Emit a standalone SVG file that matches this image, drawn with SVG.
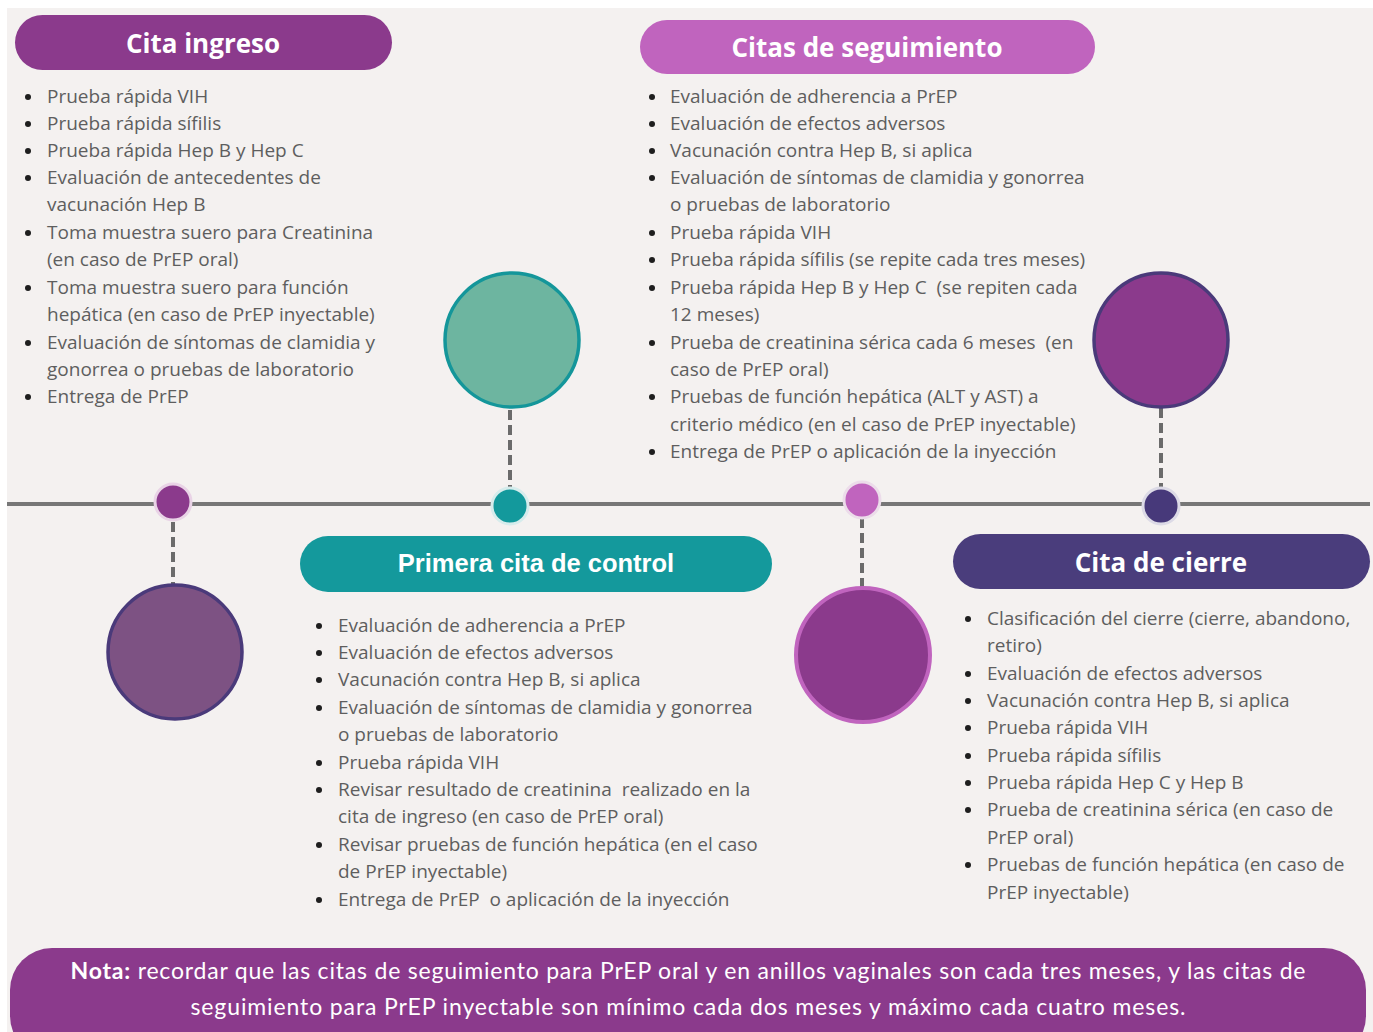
<svg xmlns="http://www.w3.org/2000/svg" width="1373" height="1032" viewBox="0 0 1373 1032">
<defs>
<style>
.bg{fill:#f4f1f0}
.hdr{font-family:"Open Sans","DejaVu Sans",sans-serif;font-weight:700;font-size:26px;fill:#ffffff;text-anchor:middle}
.hdr2{font-family:"Liberation Sans",Arial,sans-serif;font-weight:700;font-size:25.5px;fill:#ffffff;text-anchor:middle}
.li{font-family:"Open Sans","DejaVu Sans",sans-serif;font-size:19px;fill:#5e5e5e}
.b{fill:#1e1e1e}
.dash{stroke:#6b6b6b;stroke-width:4;stroke-dasharray:10 5;fill:none}
.note{font-family:"Lato","Open Sans",sans-serif;font-size:23px;fill:#ffffff;text-anchor:middle}
</style>
</defs>
<rect x="0" y="0" width="1373" height="1032" fill="#ffffff"/>
<rect class="bg" x="7" y="8" width="1366" height="1024"/>

<g id="connectors">
<line x1="7" y1="504" x2="1370" y2="504" stroke="#777777" stroke-width="4"/>
<line class="dash" x1="173" y1="522" x2="173" y2="586"/>
<line class="dash" x1="510" y1="410" x2="510" y2="488"/>
<line class="dash" x1="862" y1="518" x2="862" y2="588"/>
<line class="dash" x1="1161" y1="408" x2="1161" y2="490"/>
</g>

<g id="dot-ingreso"><circle cx="173" cy="502" r="18" fill="#8b3a8c" stroke="#e9d3e6" stroke-width="3"/></g>
<g id="dot-control"><circle cx="510" cy="506" r="18" fill="#13999c" stroke="#d6ecec" stroke-width="3"/></g>
<g id="dot-seguimiento"><circle cx="862" cy="500" r="18" fill="#c064be" stroke="#ecdcea" stroke-width="3"/></g>
<g id="dot-cierre"><circle cx="1161" cy="506" r="18" fill="#47397a" stroke="#dcdae6" stroke-width="3"/></g>

<g id="circle-ingreso"><circle cx="175" cy="652" r="67" fill="#7d5283" stroke="#4a3a7a" stroke-width="3.5"/></g>
<g id="circle-control"><circle cx="512" cy="340" r="67" fill="#6db5a0" stroke="#14969a" stroke-width="3.5"/></g>
<g id="circle-seguimiento"><circle cx="863" cy="655" r="67" fill="#8b3a8c" stroke="#c064be" stroke-width="4"/></g>
<g id="circle-cierre"><circle cx="1161" cy="340" r="67" fill="#8b3a8c" stroke="#4a3a7a" stroke-width="3.5"/></g>

<g id="cita-ingreso">
<rect x="15" y="15" width="377" height="55" rx="27.5" fill="#8b3a8c"/>
<text class="hdr" x="203" y="53">Cita ingreso</text>
<g class="b">
<circle cx="28" cy="97" r="3"/><circle cx="28" cy="124" r="3"/><circle cx="28" cy="151" r="3"/><circle cx="28" cy="178" r="3"/><circle cx="28" cy="233" r="3"/><circle cx="28" cy="288" r="3"/><circle cx="28" cy="343" r="3"/><circle cx="28" cy="397" r="3"/>
</g>
<text class="li">
<tspan x="47" y="103">Prueba rápida VIH</tspan>
<tspan x="47" y="130">Prueba rápida sífilis</tspan>
<tspan x="47" y="157">Prueba rápida Hep B y Hep C</tspan>
<tspan x="47" y="184">Evaluación de antecedentes de</tspan>
<tspan x="47" y="211">vacunación Hep B</tspan>
<tspan x="47" y="239">Toma muestra suero para Creatinina</tspan>
<tspan x="47" y="266">(en caso de PrEP oral)</tspan>
<tspan x="47" y="294">Toma muestra suero para función</tspan>
<tspan x="47" y="321">hepática (en caso de PrEP inyectable)</tspan>
<tspan x="47" y="349">Evaluación de síntomas de clamidia y</tspan>
<tspan x="47" y="376">gonorrea o pruebas de laboratorio</tspan>
<tspan x="47" y="403">Entrega de PrEP</tspan>
</text>
</g>

<g id="citas-seguimiento">
<rect x="640" y="20" width="455" height="54" rx="27" fill="#c064be"/>
<text class="hdr" x="867" y="57">Citas de seguimiento</text>
<g class="b">
<circle cx="652" cy="97" r="3"/><circle cx="652" cy="124" r="3"/><circle cx="652" cy="151" r="3"/><circle cx="652" cy="178" r="3"/><circle cx="652" cy="233" r="3"/><circle cx="652" cy="260" r="3"/><circle cx="652" cy="288" r="3"/><circle cx="652" cy="343" r="3"/><circle cx="652" cy="397" r="3"/><circle cx="652" cy="452" r="3"/>
</g>
<text class="li">
<tspan x="670" y="103">Evaluación de adherencia a PrEP</tspan>
<tspan x="670" y="130">Evaluación de efectos adversos</tspan>
<tspan x="670" y="157">Vacunación contra Hep B, si aplica</tspan>
<tspan x="670" y="184">Evaluación de síntomas de clamidia y gonorrea</tspan>
<tspan x="670" y="211">o pruebas de laboratorio</tspan>
<tspan x="670" y="239">Prueba rápida VIH</tspan>
<tspan x="670" y="266">Prueba rápida sífilis (se repite cada tres meses)</tspan>
<tspan x="670" y="294">Prueba rápida Hep B y Hep C&#160; (se repiten cada</tspan>
<tspan x="670" y="321">12 meses)</tspan>
<tspan x="670" y="349">Prueba de creatinina sérica cada 6 meses&#160; (en</tspan>
<tspan x="670" y="376">caso de PrEP oral)</tspan>
<tspan x="670" y="403">Pruebas de función hepática (ALT y AST) a</tspan>
<tspan x="670" y="431">criterio médico (en el caso de PrEP inyectable)</tspan>
<tspan x="670" y="458">Entrega de PrEP o aplicación de la inyección</tspan>
</text>
</g>

<g id="primera-cita-control">
<rect x="300" y="536" width="472" height="56" rx="28" fill="#14999c"/>
<text class="hdr2" x="536" y="572">Primera cita de control</text>
<g class="b">
<circle cx="319" cy="626" r="3"/><circle cx="319" cy="653" r="3"/><circle cx="319" cy="680" r="3"/><circle cx="319" cy="708" r="3"/><circle cx="319" cy="763" r="3"/><circle cx="319" cy="790" r="3"/><circle cx="319" cy="845" r="3"/><circle cx="319" cy="900" r="3"/>
</g>
<text class="li">
<tspan x="338" y="632">Evaluación de adherencia a PrEP</tspan>
<tspan x="338" y="659">Evaluación de efectos adversos</tspan>
<tspan x="338" y="686">Vacunación contra Hep B, si aplica</tspan>
<tspan x="338" y="714">Evaluación de síntomas de clamidia y gonorrea</tspan>
<tspan x="338" y="741">o pruebas de laboratorio</tspan>
<tspan x="338" y="769">Prueba rápida VIH</tspan>
<tspan x="338" y="796">Revisar resultado de creatinina&#160; realizado en la</tspan>
<tspan x="338" y="823">cita de ingreso (en caso de PrEP oral)</tspan>
<tspan x="338" y="851">Revisar pruebas de función hepática (en el caso</tspan>
<tspan x="338" y="878">de PrEP inyectable)</tspan>
<tspan x="338" y="906">Entrega de PrEP&#160; o aplicación de la inyección</tspan>
</text>
</g>

<g id="cita-cierre">
<rect x="953" y="534" width="417" height="55" rx="27.5" fill="#4a3d7c"/>
<text class="hdr" x="1161" y="572">Cita de cierre</text>
<g class="b">
<circle cx="968" cy="619" r="3"/><circle cx="968" cy="674" r="3"/><circle cx="968" cy="701" r="3"/><circle cx="968" cy="728" r="3"/><circle cx="968" cy="756" r="3"/><circle cx="968" cy="783" r="3"/><circle cx="968" cy="810" r="3"/><circle cx="968" cy="865" r="3"/>
</g>
<text class="li">
<tspan x="987" y="625">Clasificación del cierre (cierre, abandono,</tspan>
<tspan x="987" y="652">retiro)</tspan>
<tspan x="987" y="680">Evaluación de efectos adversos</tspan>
<tspan x="987" y="707">Vacunación contra Hep B, si aplica</tspan>
<tspan x="987" y="734">Prueba rápida VIH</tspan>
<tspan x="987" y="762">Prueba rápida sífilis</tspan>
<tspan x="987" y="789">Prueba rápida Hep C y Hep B</tspan>
<tspan x="987" y="816">Prueba de creatinina sérica (en caso de</tspan>
<tspan x="987" y="844">PrEP oral)</tspan>
<tspan x="987" y="871">Pruebas de función hepática (en caso de</tspan>
<tspan x="987" y="899">PrEP inyectable)</tspan>
</text>
</g>

<g id="nota">
<rect x="10" y="948" width="1356" height="110" rx="42" fill="#8b3a8c"/>
<text class="note" x="688" y="979" textLength="1235"><tspan font-weight="700">Nota:</tspan> recordar que las citas de seguimiento para PrEP oral y en anillos vaginales son cada tres meses, y las citas de</text>
<text class="note" x="688" y="1015" textLength="995">seguimiento para PrEP inyectable son mínimo cada dos meses y máximo cada cuatro meses.</text>
</g>
</svg>
